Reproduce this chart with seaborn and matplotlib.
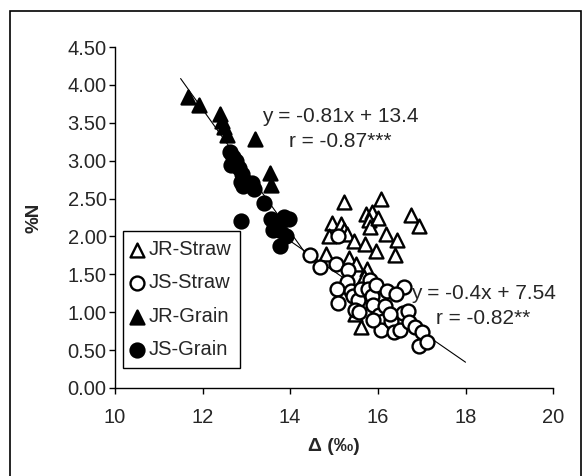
import matplotlib
matplotlib.use("Agg")
import numpy as np
import pandas as pd
import matplotlib.pyplot as plt
import seaborn as sns
from matplotlib.patches import Rectangle

# Carbon isotope discrimination (x, per mil) vs nitrogen content (%N)
jr_straw_x = [15.22, 16.08, 15.72, 15.87, 15.80, 16.75, 16.95, 14.96, 15.15, 15.22,
              15.83, 16.00, 16.18, 16.44, 14.88, 15.30, 15.45, 15.70, 15.95, 16.40,
              14.82, 15.34, 15.50, 15.75, 15.68, 15.62, 15.49]
jr_straw_y = [2.46, 2.49, 2.30, 2.32, 2.22, 2.29, 2.14, 2.18, 2.17, 2.08,
              2.13, 2.24, 2.03, 1.95, 2.01, 2.03, 1.94, 1.90, 1.81, 1.76,
              1.77, 1.72, 1.64, 1.57, 1.46, 0.80, 0.97]

js_straw_x = [14.46, 14.68, 15.05, 15.10, 15.33, 15.30, 15.07, 15.08, 15.38, 15.44,
              15.55, 15.48, 15.62, 15.82, 15.78, 15.87, 15.95, 15.90, 16.03, 16.16,
              16.20, 16.12, 16.08, 16.30, 16.36, 16.50, 16.60, 16.57, 16.68, 16.72,
              16.85, 17.00, 16.94, 17.12, 16.42, 16.27, 15.90, 15.58]
js_straw_y = [1.76, 1.60, 1.64, 2.01, 1.56, 1.40, 1.31, 1.12, 1.28, 1.22,
              1.16, 1.03, 1.31, 1.43, 1.30, 1.21, 1.36, 1.09, 0.96, 1.08,
              1.28, 0.89, 0.76, 0.89, 0.74, 0.77, 1.33, 0.99, 1.02, 0.87,
              0.81, 0.74, 0.56, 0.61, 1.24, 0.98, 0.90, 1.00]

jr_grain_x = [11.68, 11.92, 12.40, 12.44, 12.50, 12.56, 13.19, 13.53, 13.57]
jr_grain_y = [3.84, 3.74, 3.62, 3.52, 3.45, 3.34, 3.29, 2.84, 2.68]

js_grain_x = [12.62, 12.70, 12.76, 12.65, 12.83, 12.90, 12.88, 12.92, 13.13, 13.17,
              13.41, 12.88, 13.57, 13.70, 13.87, 13.98, 13.60, 13.74, 13.90, 13.76]
js_grain_y = [3.11, 3.05, 3.00, 2.95, 2.90, 2.83, 2.72, 2.67, 2.71, 2.63,
              2.44, 2.20, 2.23, 2.18, 2.26, 2.23, 2.08, 2.09, 2.01, 1.88]

# Linear fits: (slope, intercept, x-range)
fit_upper = (-0.81, 13.4, [11.5, 14.5])
fit_lower = (-0.4, 7.54, [13.9, 18.0])
fit_upper_text = ["y = -0.81x + 13.4", "r = -0.87***"]
fit_lower_text = ["y = -0.4x + 7.54", "r = -0.82**"]

x_ticks = [10, 12, 14, 16, 18, 20]
y_ticks = [0.0, 0.5, 1.0, 1.5, 2.0, 2.5, 3.0, 3.5, 4.0, 4.5]

sns.set_theme(style="white")
plt.rcParams['font.family'] = ['Liberation Sans', 'DejaVu Sans']

fig = plt.figure(figsize=(5.86, 4.76), dpi=100)
ax = fig.add_axes([0.196, 0.185, 0.748, 0.716])

# outer chart border
fig.patches.append(Rectangle((0.017, -0.05), 0.974, 1.027, transform=fig.transFigure,
                             fill=False, edgecolor='black', linewidth=1.2))

# fitted lines
for slope, icpt, xr in (fit_upper, fit_lower):
    lx = np.array(xr)
    line_df = pd.DataFrame({"x": lx, "y": slope * lx + icpt})
    sns.lineplot(data=line_df, x="x", y="y", ax=ax, color='black', linewidth=0.8,
                 zorder=1, legend=False)

series = [
    ("JR-Straw", jr_straw_x, jr_straw_y, '^', 'white'),
    ("JS-Straw", js_straw_x, js_straw_y, 'o', 'white'),
    ("JR-Grain", jr_grain_x, jr_grain_y, '^', 'black'),
    ("JS-Grain", js_grain_x, js_grain_y, 'o', 'black'),
]
for i, (name, xs, ys, mk, fc) in enumerate(series):
    df = pd.DataFrame({"delta": xs, "N": ys})
    sns.scatterplot(data=df, x="delta", y="N", ax=ax, marker=mk, s=100,
                    facecolor=fc, edgecolor='black', linewidth=1.7,
                    label=name, zorder=3 + i)

ax.set_xlim(10, 20)
ax.set_ylim(0, 4.5)
ax.set_xticks(x_ticks)
ax.set_yticks(y_ticks)
ax.set_xticklabels([f"{v:d}" for v in x_ticks])
ax.set_yticklabels([f"{v:.2f}" for v in y_ticks])
ax.tick_params(axis='both', which='major', labelsize=14.5, length=4.5, width=1,
               direction='out', color='black', bottom=True, left=True)
ax.tick_params(axis='x', pad=10)
ax.tick_params(axis='y', pad=1.5)
for side in ('top', 'right'):
    ax.spines[side].set_visible(False)
for side in ('left', 'bottom'):
    ax.spines[side].set_color('black')
    ax.spines[side].set_linewidth(1.0)

ax.set_xlabel("Δ (‰)", fontsize=14, fontweight='bold')
ax.set_ylabel("%N", fontsize=13.5, fontweight='bold')
ax.xaxis.set_label_coords(0.5, -0.148)
ax.yaxis.set_label_coords(-0.165, 0.5)

ax.text(15.15, 3.59, fit_upper_text[0], fontsize=15, ha='center', va='center')
ax.text(15.15, 3.26, fit_upper_text[1], fontsize=15, ha='center', va='center')
ax.text(18.4, 1.25, fit_lower_text[0], fontsize=15, ha='center', va='center', zorder=10)
ax.text(18.4, 0.92, fit_lower_text[1], fontsize=15, ha='center', va='center', zorder=10)

leg = ax.legend(loc='lower left', bbox_to_anchor=(0.018, 0.059), fontsize=14.5,
                frameon=True, fancybox=False, edgecolor='black', framealpha=1,
                handletextpad=0.25, labelspacing=0.72, borderpad=0.42,
                handlelength=0.6, borderaxespad=0)
leg.get_frame().set_linewidth(1.0)

fig.savefig("out.png", dpi=100)
